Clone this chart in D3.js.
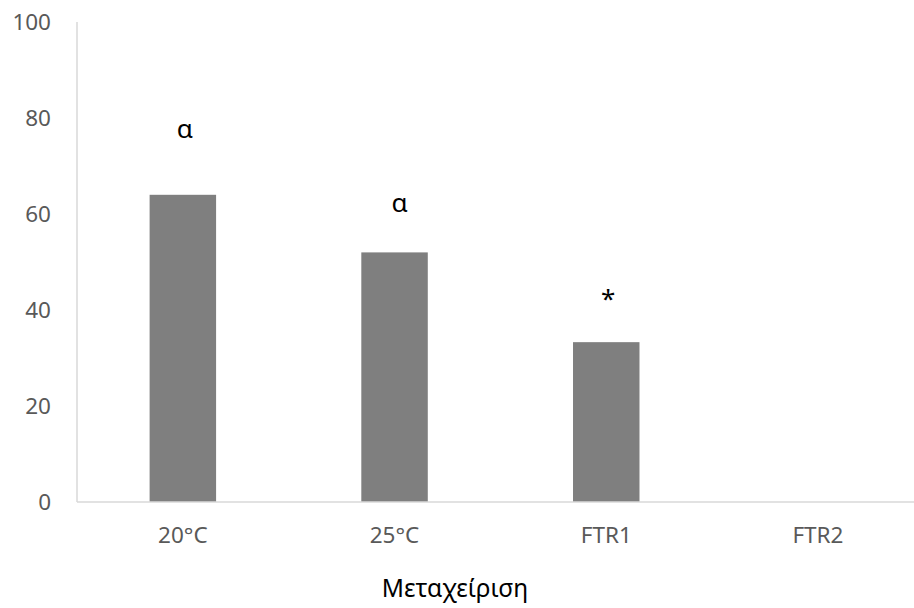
<!DOCTYPE html>
<html>
<head>
<meta charset="utf-8">
<script src="https://cdn.jsdelivr.net/npm/d3@7"></script>
<style>
  body { margin: 0; background: #fff; }
  svg text { font-family: "Noto Sans", "Open Sans", sans-serif; }
</style>
</head>
<body>
<svg id="chart"></svg>
<script>
let categories = ["20°C", "25°C", "FTR1", "FTR2"];
let values = [64, 52, 33.3, 0];
let marks = ["α", "α", "*", ""];
// where the letters sit, in axis units
let markAt = [75.8, 60.5, 40.4, 0];
let yTicks = [0, 20, 40, 60, 80, 100];
let xTitle = "Μεταχείριση";

let w = 914;
let h = 608;
let plotLeft = 77;
let plotTop = 22;
let plotBottom = 502;

let svg = d3.select('#chart')
    .attr('width', w)
    .attr('height', h);

let xScale = d3.scaleBand()
    .domain(categories)
    .range([plotLeft, plotLeft + 4 * 211.7])
    .paddingInner(0.686)
    .paddingOuter(0.343);

let yScale = d3.scaleLinear()
    .domain([0, 100])
    .range([plotBottom, plotTop]);

// axis lines
svg.append('line')
    .attr('x1', plotLeft).attr('x2', plotLeft)
    .attr('y1', yScale(100)).attr('y2', yScale(0))
    .attr('stroke', '#d9d9d9')
    .attr('stroke-width', 1.5);

let yAxis = d3.axisLeft(yScale)
    .tickValues(yTicks)
    .tickSize(0)
    .tickPadding(26);

svg.append('g')
    .attr('transform', 'translate(' + plotLeft + ',0)')
    .call(yAxis)
    .call(g => g.select('.domain').remove())
    .selectAll('text')
    .attr('fill', '#595959')
    .attr('font-size', 22.5)
    .attr('font-family', '"Noto Sans", sans-serif');

svg.selectAll('rect.bar')
    .data(values)
    .enter()
    .append('rect')
    .attr('class', 'bar')
    .attr('x', (d, i) => xScale(categories[i]))
    .attr('width', xScale.bandwidth())
    .attr('y', d => yScale(d))
    .attr('height', d => yScale(0) - yScale(d))
    .attr('fill', '#7f7f7f');

svg.append('line')
    .attr('x1', plotLeft).attr('x2', w)
    .attr('y1', yScale(0)).attr('y2', yScale(0))
    .attr('stroke', '#d9d9d9')
    .attr('stroke-width', 1.5);

let xAxis = d3.axisBottom(xScale)
    .tickSize(0)
    .tickPadding(25);

svg.append('g')
    .attr('transform', 'translate(0,' + plotBottom + ')')
    .call(xAxis)
    .call(g => g.select('.domain').remove())
    .selectAll('text')
    .attr('fill', '#595959')
    .attr('font-size', 22.5)
    .attr('font-family', '"Noto Sans", sans-serif');

svg.selectAll('text.mark')
    .data(marks)
    .enter()
    .append('text')
    .attr('class', 'mark')
    .attr('x', (d, i) => xScale(categories[i]) + xScale.bandwidth() / 2 + (i == 1 ? 5 : 2))
    .attr('y', (d, i) => yScale(markAt[i]))
    .attr('text-anchor', 'middle')
    .attr('font-size', 26)
    .attr('fill', '#000')
    .text(d => d);

svg.append('text')
    .attr('x', 455)
    .attr('y', 597)
    .attr('text-anchor', 'middle')
    .attr('font-size', 24.5)
    .attr('fill', '#000')
    .text(xTitle);
</script>
</body>
</html>
